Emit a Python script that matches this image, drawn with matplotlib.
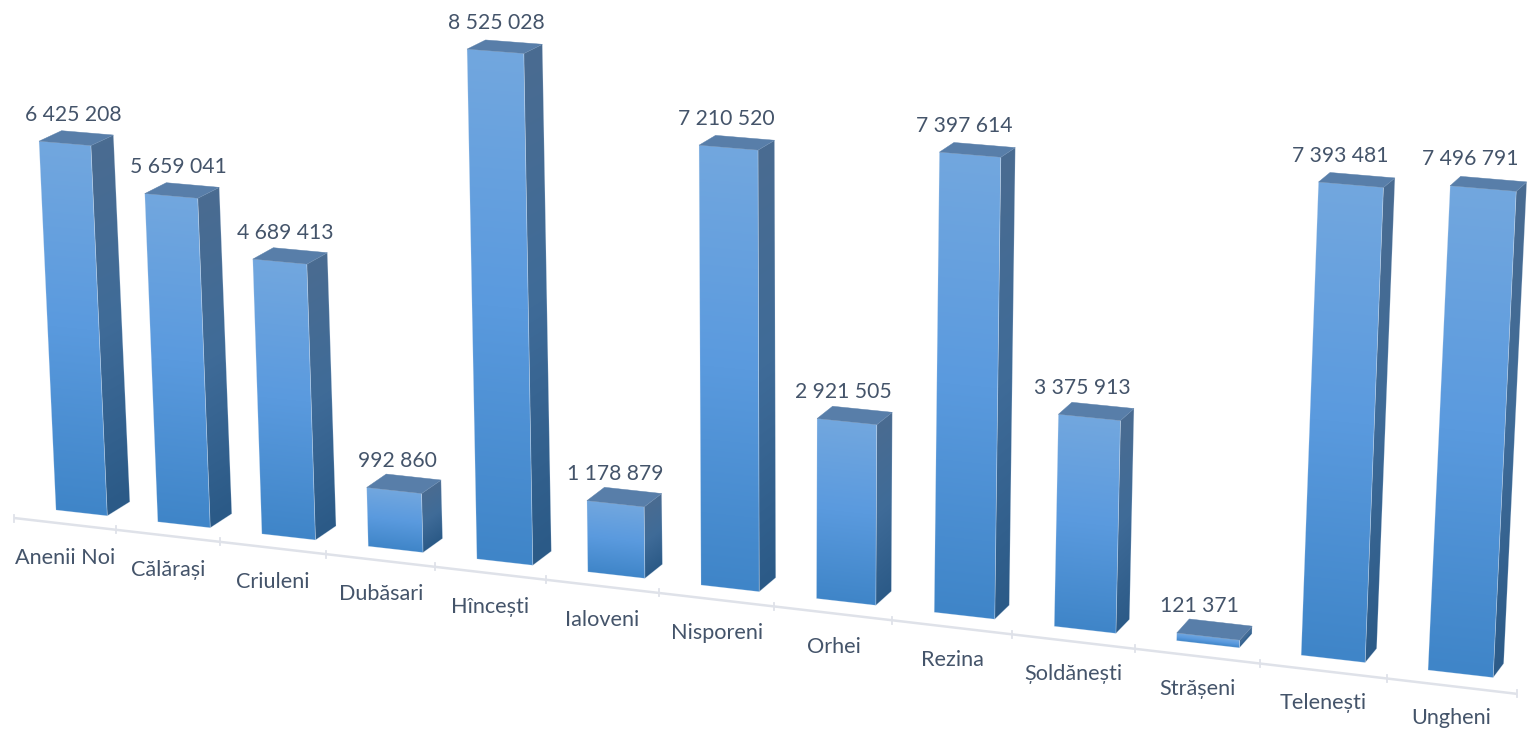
import numpy as np
import matplotlib
matplotlib.use("Agg")
import matplotlib.pyplot as plt
from matplotlib.patches import Polygon
from matplotlib.colors import to_rgb

categories = ["Anenii Noi", "Călărași", "Criuleni", "Dubăsari", "Hîncești", "Ialoveni", "Nisporeni",
              "Orhei", "Rezina", "Șoldănești", "Strășeni", "Telenești", "Ungheni"]
values = [6425208, 5659041, 4689413, 992860, 8525028, 1178879, 7210520,
          2921505, 7397614, 3375913, 121371, 7393481, 7496791]
value_labels = ["6 425 208", "5 659 041", "4 689 413", "992 860", "8 525 028", "1 178 879", "7 210 520",
                "2 921 505", "7 397 614", "3 375 913", "121 371", "7 393 481", "7 496 791"]

TEXT = "#44546a"
AXIS = "#dfe2e9"
FRONT = ["#72a7de", "#5a9ade", "#3f85c8"]
SIDE = ["#4a6c91", "#3f6b98", "#2b5a87"]
TOP = "#587ea9"
plt.rcParams['font.family'] = ['Lato', 'Open Sans', 'DejaVu Sans']


# Perspective of the 3D chart: maps (category position, value) to the canvas
def base(t):
    return 56 + 100.67 * t + 1.139 * t * t, 510 + 11.67 * t + 0.139 * t * t


def tick(k):
    return 14 + 100.5 * k + 1.16 * k * k, 518 + 11.6 * k + 0.148 * k * k


def height_px(t, v):
    return v / 1e6 * (57.4 + 0.6 * t)


def faces(t, v):
    h = height_px(t, v)
    lean = -0.046 + 0.0062 * t + 0.00012 * t * t
    w = 51.3 + 1.15 * t
    slope = 5.8 + 0.14 * t
    ddx = 22.5 - 1.0 * t
    bl = np.array(base(t))
    br = bl + [w, slope]
    fl = bl + [lean * h, -h]
    fr = fl + [w * (1 + 3e-5 * h), slope - 0.004 * h]
    d_bot = np.array([ddx, -14.0])
    d_top = np.array([ddx, -(14.0 - 0.0095 * h)])
    bbr = br + d_bot
    tbr = fr + d_top
    tbl = fl + d_top
    return bl, br, fl, fr, bbr, tbr, tbl


def gradient_fill(ax, tl, tr, bl, br, stops):
    pts = np.array([tl, tr, br, bl])
    x0, x1 = int(pts[:, 0].min()) - 1, int(pts[:, 0].max()) + 2
    y0, y1 = int(pts[:, 1].min()) - 1, int(pts[:, 1].max()) + 2
    xx, yy = np.meshgrid(np.arange(x0, x1) + .5, np.arange(y0, y1) + .5)
    u = (xx - (tl[0] + bl[0]) / 2) / max((tr[0] - tl[0] + br[0] - bl[0]) / 2, 1)
    ytop = tl[1] + (tr[1] - tl[1]) * u
    ybot = bl[1] + (br[1] - bl[1]) * u
    f = np.clip((yy - ytop) / np.maximum(ybot - ytop, 1), 0, 1)
    rgb = np.array([to_rgb(c) for c in stops])
    img = np.dstack([np.interp(f, [0, .5, 1], rgb[:, c]) for c in range(3)])
    poly = Polygon(pts, closed=True, transform=ax.transData, fc='none', ec='none')
    ax.add_patch(poly)
    im = ax.imshow(img, extent=[x0, x1, y1, y0], aspect='auto', interpolation='bilinear', zorder=2)
    im.set_clip_path(poly)
    ax.add_patch(Polygon(pts, closed=True, fc='none', ec="#dce8f5", lw=0.5, alpha=.3, zorder=3))


fig = plt.figure(figsize=(15.31, 7.32), dpi=100)
ax = fig.add_axes([0, 0, 1, 1])
ax.set_xlim(0, 1531)
ax.set_ylim(732, 0)
ax.axis('off')

# Category axis
ks = np.arange(len(categories) + 1)
tx, ty = tick(ks)
ax.plot(tx, ty, color=AXIS, lw=1.8, zorder=1, solid_capstyle='butt')
for x, y in zip(tx, ty):
    ax.plot([x, x], [y - 3.5, y + 3.5], color=AXIS, lw=1.3, zorder=1)

for i, (cat, v, lab) in enumerate(zip(categories, values, value_labels)):
    bl, br, fl, fr, bbr, tbr, tbl = faces(i, v)
    gradient_fill(ax, fr, tbr, br, bbr, SIDE)
    gradient_fill(ax, fl, fr, bl, br, FRONT)
    ax.add_patch(Polygon([fl, fr, tbr, tbl], closed=True, fc=TOP, ec=TOP, lw=0.3, zorder=3))
    ax.text(fl[0] + 34.5 - 1.2 * i, fl[1] - 26.5, lab, ha='center', va='center', fontsize=15.2, color=TEXT)
    ax.text(bl[0] + 9 + 1.15 * i, bl[1] + 48, cat, ha='center', va='center', fontsize=15.6, color=TEXT)

fig.savefig("out.png", dpi=100)
